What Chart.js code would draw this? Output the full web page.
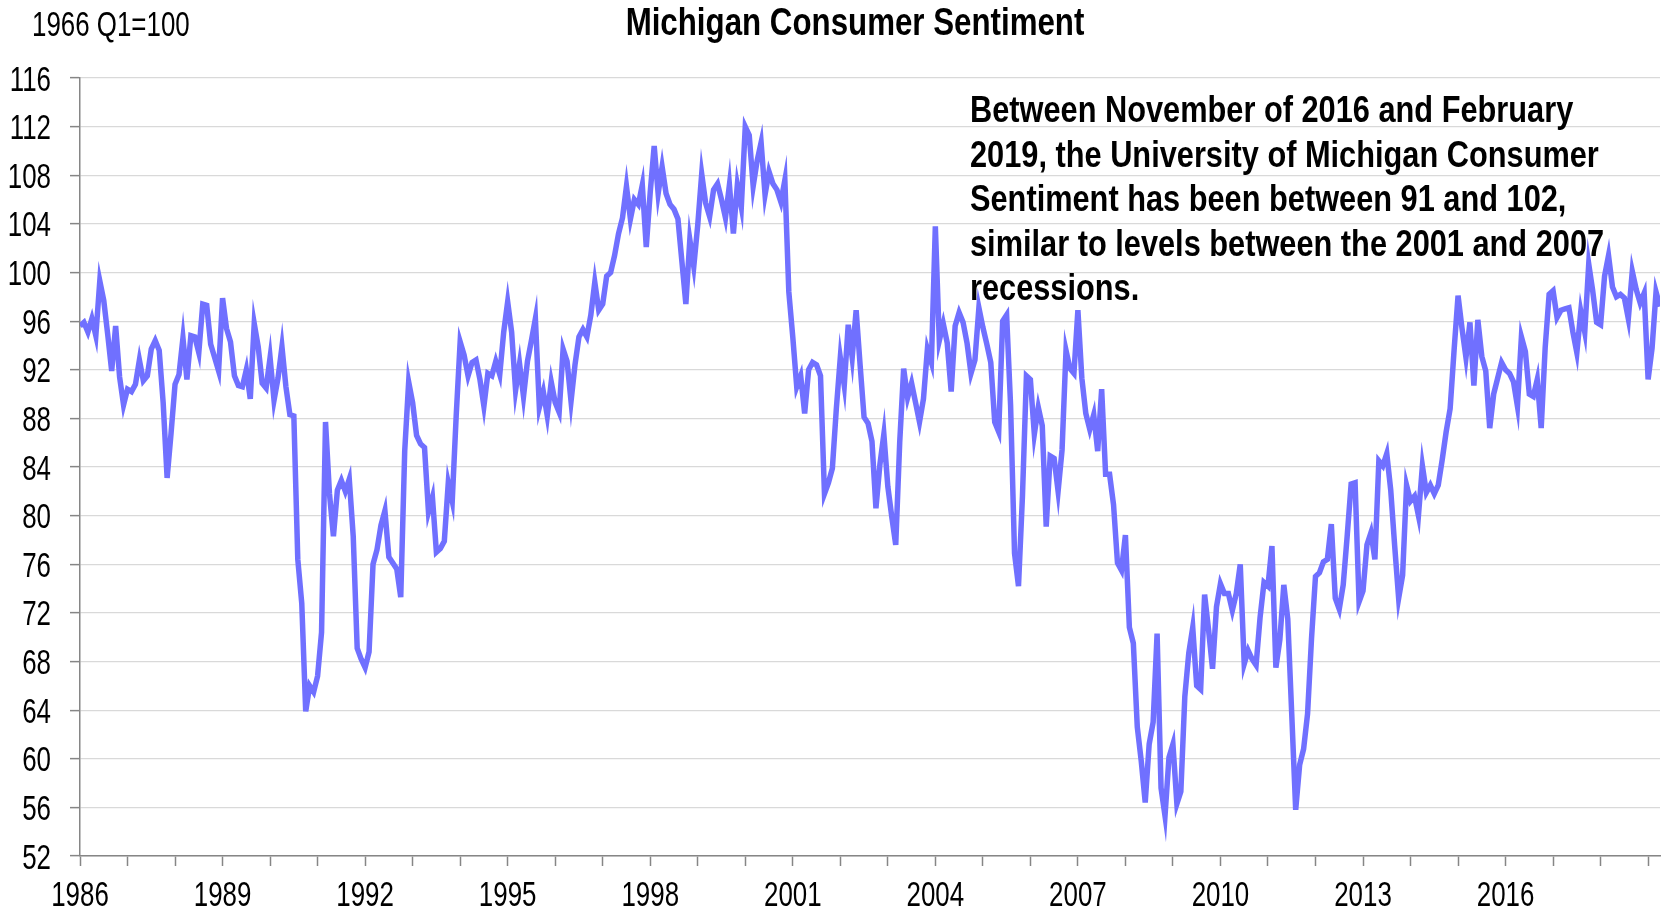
<!DOCTYPE html>
<html>
<head>
<meta charset="utf-8">
<script src="https://cdn.jsdelivr.net/npm/chart.js@4"></script>
<style>
  html, body { margin: 0; padding: 0; background: #ffffff; }
  canvas { display: block; }
</style>
</head>
<body>
<canvas id="chart" width="1671" height="910"></canvas>
<script>
const startYear = 1986;

// monthly index readings, Jan 1986 onwards
const sentiment1980s = [
  95.6, 95.9, 95.1, 96.2, 94.8, 99.3, 97.7, 94.9, 91.9, 95.6, 91.4, 89.1,
  90.4, 90.2, 90.8, 92.8, 91.1, 91.5, 93.7, 94.4, 93.6, 89.3, 83.1, 86.8,
  90.8, 91.6, 94.6, 91.2, 94.8, 94.7, 93.4, 97.4, 97.3, 94.1, 93.0, 91.9,
  97.9, 95.4, 94.3, 91.5, 90.7, 90.6, 92.0, 89.6, 95.8, 93.9, 90.9, 90.5,
];
const sentiment1990s = [
  93.0, 89.5, 91.3, 93.9, 90.6, 88.3, 88.2, 76.4, 72.8, 63.9, 66.0, 65.5,
  66.8, 70.4, 87.7, 81.8, 78.3, 82.1, 82.9, 82.0, 83.0, 78.3, 69.1, 68.2,
  67.5, 68.8, 76.0, 77.2, 79.2, 80.4, 76.6, 76.1, 75.6, 73.3, 85.3, 91.0,
  89.3, 86.6, 85.9, 85.6, 80.3, 81.5, 77.0, 77.3, 77.9, 82.7, 81.2, 88.2,
  94.3, 93.2, 91.5, 92.6, 92.8, 91.2, 89.0, 91.7, 91.5, 92.7, 91.6, 95.1,
  97.6, 95.1, 90.3, 92.5, 89.8, 92.7, 94.4, 96.2, 88.9, 90.2, 88.2, 91.0,
  89.3, 88.5, 93.7, 92.7, 89.4, 92.4, 94.7, 95.3, 94.7, 96.5, 99.2, 96.9,
  97.4, 99.7, 100.0, 101.4, 103.2, 104.5, 107.1, 104.4, 106.0, 105.6, 107.2, 102.1,
  106.6, 110.4, 106.5, 108.7, 106.5, 105.6, 105.2, 104.4, 100.9, 97.4, 102.7, 100.5,
  103.9, 108.1, 105.7, 104.6, 106.8, 107.3, 106.0, 104.5, 107.2, 103.2, 107.2, 105.4,
];
const sentiment2000s = [
  112.0, 111.3, 107.1, 109.2, 110.7, 106.4, 108.3, 107.3, 106.8, 105.8, 107.6, 98.4,
  94.7, 90.6, 91.5, 88.4, 92.0, 92.6, 92.4, 91.5, 81.8, 82.7, 83.9, 88.8,
  93.0, 90.7, 95.7, 93.0, 96.9, 92.4, 88.1, 87.6, 86.1, 80.6, 84.2, 86.7,
  82.4, 79.9, 77.6, 86.0, 92.1, 89.7, 90.9, 89.3, 87.7, 89.6, 93.7, 92.6,
  103.8, 94.4, 95.8, 94.2, 90.2, 95.6, 96.7, 95.9, 94.2, 91.7, 92.8, 97.1,
  95.5, 94.1, 92.6, 87.7, 86.9, 96.0, 96.5, 89.1, 76.9, 74.2, 81.6, 91.5,
  91.2, 86.7, 88.9, 87.4, 79.1, 84.9, 84.7, 82.0, 85.4, 93.6, 92.1, 91.7,
  96.9, 91.3, 88.4, 87.1, 88.3, 85.3, 90.4, 83.4, 83.4, 80.9, 76.1, 75.5,
  78.4, 70.8, 69.5, 62.6, 59.8, 56.4, 61.2, 63.0, 70.3, 57.6, 55.3, 60.1,
  61.2, 56.3, 57.3, 65.1, 68.7, 70.8, 66.0, 65.7, 73.5, 70.6, 67.4, 72.5,
];
const sentiment2010s = [
  74.4, 73.6, 73.6, 72.2, 73.6, 76.0, 67.8, 68.9, 68.2, 67.7, 71.6, 74.5,
  74.2, 77.5, 67.5, 69.8, 74.3, 71.5, 63.7, 55.8, 59.5, 60.8, 63.7, 69.9,
  75.0, 75.3, 76.2, 76.4, 79.3, 73.2, 72.3, 74.3, 78.3, 82.6, 82.7, 72.9,
  73.8, 77.6, 78.6, 76.4, 84.5, 84.1, 85.1, 82.1, 77.5, 73.2, 75.1, 82.5,
  81.2, 81.6, 80.0, 84.1, 81.9, 82.5, 81.8, 82.5, 84.6, 86.9, 88.8, 93.6,
  98.1, 95.4, 93.0, 95.9, 90.7, 96.1, 93.1, 91.9, 87.2, 90.0, 91.3, 92.6,
  92.0, 91.7, 91.0, 89.0, 94.7, 93.5, 90.0, 89.8, 91.2, 87.2, 93.8, 98.2,
  98.5, 96.3, 96.9, 97.0, 97.1, 95.1, 93.4, 96.8, 95.1, 100.7, 98.5, 95.9,
  95.7, 99.7, 101.4, 98.8, 98.0, 98.2, 97.9, 96.2, 100.1, 98.6, 97.5, 98.3,
  91.2, 93.8, 98.4, 97.2,
];

const yTicks = { min: 52, max: 116, step: 4 };
const xLabelYears = [1986, 1989, 1992, 1995, 1998, 2001, 2004, 2007, 2010, 2013, 2016];
const xEnd = 2019.25;

const titleText = "Michigan Consumer Sentiment";
const unitText = "1966 Q1=100";
const noteLines = [
  "Between November of 2016 and February",
  "2019, the University of Michigan Consumer",
  "Sentiment has been between 91 and 102,",
  "similar to levels between the 2001 and 2007",
  "recessions.",
];

const values = [...sentiment1980s, ...sentiment1990s, ...sentiment2000s, ...sentiment2010s];
const points = values.map((v, i) => ({ x: startYear + i / 12, y: v }));

const yearTicks = [];
for (let y = startYear; y <= Math.floor(xEnd); y++) yearTicks.push(y);

const FONT = "'Liberation Sans', Arial, sans-serif";
const axisGrey = "#868686";

// Arial Narrow is not available, so squeeze Liberation Sans horizontally
function narrowText(ctx, text, x, y, size, squeeze, bold, align) {
  ctx.save();
  ctx.font = (bold ? "bold " : "") + size + "px " + FONT;
  ctx.textAlign = align;
  ctx.textBaseline = "alphabetic";
  ctx.translate(x, y);
  ctx.scale(squeeze, 1);
  ctx.fillText(text, 0, 0);
  ctx.restore();
}

const textPlugin = {
  id: "textPlugin",
  afterDraw(chart) {
    const ctx = chart.ctx;
    const xs = chart.scales.x;
    const ys = chart.scales.y;
    ctx.save();
    ctx.fillStyle = "#000000";

    xLabelYears.forEach((yr) => {
      narrowText(ctx, String(yr), xs.getPixelForValue(yr), 906, 35, 0.74, false, "center");
    });
    ys.ticks.forEach((t) => {
      narrowText(ctx, String(t.value), 51, ys.getPixelForValue(t.value) + 12.5, 35, 0.74, false, "right");
    });

    narrowText(ctx, unitText, 32, 36, 35, 0.74, false, "left");
    narrowText(ctx, titleText, 855, 35, 38, 0.823, true, "center");
    noteLines.forEach((line, i) => {
      narrowText(ctx, line, 970, 122 + i * 44.5, 37.5, 0.82, true, "left");
    });
    ctx.restore();
  },
};

new Chart(document.getElementById("chart").getContext("2d"), {
  type: "line",
  data: {
    datasets: [
      {
        data: points,
        borderColor: "#7070ff",
        borderWidth: 5.5,
        pointRadius: 0,
        tension: 0,
        fill: false,
      },
    ],
  },
  options: {
    responsive: false,
    animation: false,
    layout: { padding: { top: 78, right: 11, left: 0, bottom: 0 } },
    plugins: {
      legend: { display: false },
      tooltip: { enabled: false },
    },
    scales: {
      x: {
        type: "linear",
        min: startYear,
        max: xEnd,
        afterBuildTicks: (axis) => {
          axis.ticks = yearTicks.map((v) => ({ value: v }));
        },
        afterFit: (axis) => {
          axis.height = 54;
        },
        border: { color: axisGrey, width: 1.5 },
        grid: {
          drawOnChartArea: false,
          drawTicks: true,
          tickLength: 10,
          tickColor: axisGrey,
          tickWidth: 1.5,
        },
        ticks: { display: false },
      },
      y: {
        min: yTicks.min,
        max: yTicks.max,
        afterFit: (axis) => {
          axis.width = 80;
        },
        border: { color: axisGrey, width: 1.5 },
        grid: {
          color: "#d9d9d9",
          lineWidth: 1.25,
          tickLength: 10,
          tickColor: axisGrey,
          tickWidth: 1.5,
        },
        ticks: { display: false, stepSize: yTicks.step },
      },
    },
  },
  plugins: [textPlugin],
});
</script>
</body>
</html>
